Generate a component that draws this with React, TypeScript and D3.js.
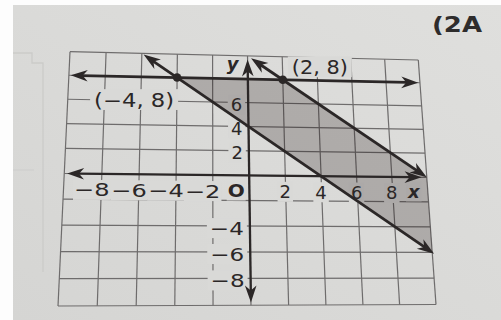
import React from 'react';
import * as d3 from 'd3';

// ---- data ----
const gridValues = d3.range(-10, 11, 2);
const xTickValues = [-8, -6, -4, -2, 2, 4, 6, 8];
const yTickValues = [6, 4, 2, -4, -6, -8];

// boundary lines y = slope * x + intercept, drawn from xStart to xEnd
const lineSlopes = [0, -1, -1];
const lineIntercepts = [8, 4, 10];
const lineStarts = [-9.9, -5.9, 0.2];
const lineEnds = [9.9, 10.1, 10];

// axes extents (data units)
const xAxisRange = [-9.85, 9.7];
const yAxisRange = [-9.8, 9.7];

// labelled vertices
const pointXs = [-4, 2];
const pointYs = [8, 8];
const pointLabels = ['(−4, 8)', '(2, 8)'];

// shaded solution region
const shadeXs = [-4, 2, 10, 10];
const shadeYs = [8, 8, 0, -6];

// ---- layout ----
const W = 501;
const H = 320;
const PAGE = '#d9d9d7';
const INK = '#2b2727';
const GRID = '#6e6c6c';
const FONT = '"DejaVu Sans", Verdana, sans-serif';
// page corners of the grid (the sheet is seen slightly in perspective)
const TL: [number, number] = [70, 51.7];
const TR: [number, number] = [418.3, 60];
const BR: [number, number] = [436, 304.5];
const BL: [number, number] = [58, 306];

type Pt = [number, number];

// projective map of the unit square onto a quadrilateral
function quadMap(p0: Pt, p1: Pt, p2: Pt, p3: Pt) {
  const [x0, y0] = p0, [x1, y1] = p1, [x2, y2] = p2, [x3, y3] = p3;
  const dx1 = x1 - x2, dx2 = x3 - x2, dx3 = x0 - x1 + x2 - x3;
  const dy1 = y1 - y2, dy2 = y3 - y2, dy3 = y0 - y1 + y2 - y3;
  const den = dx1 * dy2 - dx2 * dy1;
  const g = (dx3 * dy2 - dx2 * dy3) / den;
  const h = (dx1 * dy3 - dx3 * dy1) / den;
  const a = x1 - x0 + g * x1, b = x3 - x0 + h * x3, c = x0;
  const d = y1 - y0 + g * y1, e = y3 - y0 + h * y3, f = y0;
  return (u: number, v: number): Pt => {
    const w = g * u + h * v + 1;
    return [(a * u + b * v + c) / w, (d * u + e * v + f) / w];
  };
}

let measureCtx: CanvasRenderingContext2D | null = null;
function measure(text: string, font: string) {
  if (!measureCtx && typeof document !== 'undefined') {
    measureCtx = document.createElement('canvas').getContext('2d');
  }
  if (!measureCtx) return text.length * 10;
  measureCtx.font = font;
  return measureCtx.measureText(text).width;
}

type Label = {
  text: string;
  x: number;
  y: number;
  anchor: 'start' | 'middle' | 'end';
  size: number;
  weight?: string;
  italic?: boolean;
  len?: number;
  adjust?: 'spacing' | 'spacingAndGlyphs';
  knock?: boolean;
  padX?: number;
  padY?: number;
};

function labelWidth(l: Label) {
  if (l.len) return l.len;
  const font = `${l.italic ? 'italic ' : ''}${l.weight || 'normal'} ${l.size}px ${FONT}`;
  return measure(l.text, font);
}

function Arrowhead({ tip, from }: { tip: Pt; from: Pt }) {
  const ang = (Math.atan2(tip[1] - from[1], tip[0] - from[0]) * 180) / Math.PI;
  return (
    <path
      d="M0,0 L-17,-5.8 L-12,0 L-17,5.8 Z"
      fill={INK}
      transform={`translate(${tip[0]},${tip[1]}) rotate(${ang})`}
    />
  );
}

function ArrowLine({ a, b, width }: { a: Pt; b: Pt; width: number }) {
  const len = Math.hypot(b[0] - a[0], b[1] - a[1]);
  const ux = (b[0] - a[0]) / len, uy = (b[1] - a[1]) / len;
  const cut = 11;
  return (
    <g>
      <line
        x1={a[0] + ux * cut}
        y1={a[1] + uy * cut}
        x2={b[0] - ux * cut}
        y2={b[1] - uy * cut}
        stroke={INK}
        strokeWidth={width}
      />
      <Arrowhead tip={a} from={b} />
      <Arrowhead tip={b} from={a} />
    </g>
  );
}

export default function App() {
  const xU = d3.scaleLinear().domain([-10, 10]).range([0, 1]);
  const yV = d3.scaleLinear().domain([10, -10]).range([0, 1]);
  const warp = quadMap(TL, TR, BR, BL);
  const P = (x: number, y: number): Pt => warp(xU(x), yV(y));

  const tickSize = 18;
  const tickFont = `normal ${tickSize}px ${FONT}`;
  const minusW = measure('−', tickFont);

  const labels: Label[] = [];

  // y-axis tick labels
  yTickValues.forEach((v) => {
    const [ax, ay] = P(0, v);
    labels.push({
      text: v < 0 ? `−${-v}` : `${v}`,
      x: ax - 6,
      y: ay + 2,
      anchor: 'end',
      size: tickSize,
      len: v < 0 ? 34 : undefined,
      adjust: 'spacingAndGlyphs',
      knock: true,
      padX: 3,
      padY: 3,
    });
  });

  // x-axis tick labels: digit centred on its grid line
  xTickValues.forEach((v) => {
    const [ax, ay] = P(v, 0);
    const digit = `${Math.abs(v)}`;
    const dw = measure(digit, tickFont);
    if (v < 0) {
      const negLen = 35.5;
      const s = negLen / (minusW + dw);
      labels.push({
        text: `−${digit}`,
        x: ax + (dw * s) / 2,
        y: ay + 16,
        anchor: 'end',
        size: tickSize,
        len: negLen,
        adjust: 'spacingAndGlyphs',
        knock: true,
        padX: 1,
        padY: 3,
      });
    } else {
      labels.push({
        text: digit,
        x: ax,
        y: ay + 16,
        anchor: 'middle',
        size: tickSize,
        knock: true,
        padX: 2,
        padY: 3,
      });
    }
  });

  const [ox, oy] = P(0, 0);
  labels.push({ text: 'O', x: ox - 13, y: oy + 15, anchor: 'middle', size: 18, weight: 'bold', len: 17, adjust: 'spacingAndGlyphs', knock: true, padX: 1, padY: 3 });
  const [xx, xy] = P(10, 0);
  labels.push({ text: 'x', x: xx - 13, y: xy + 14, anchor: 'middle', size: 18, weight: 'bold', italic: true, knock: true, padX: 2, padY: 3 });
  const [yx, yy] = P(0, 10);
  labels.push({ text: 'y', x: yx - 15, y: yy + 8, anchor: 'middle', size: 18, weight: 'bold', italic: true });

  // vertex labels
  const [p0x, p0y] = P(pointXs[0], pointYs[0]);
  labels.push({ text: pointLabels[0], x: p0x - 3, y: p0y + 22, anchor: 'end', size: 19, len: 80, adjust: 'spacingAndGlyphs', knock: true, padX: 4, padY: 3 });
  const [p1x, p1y] = P(pointXs[1], pointYs[1]);
  labels.push({ text: pointLabels[1], x: p1x + 9, y: p1y - 13, anchor: 'start', size: 19, len: 56, adjust: 'spacingAndGlyphs', knock: true, padX: 4, padY: 3 });

  const shadePath = d3.line()(shadeXs.map((x, i) => P(x, shadeYs[i]))) + 'Z';

  const rectFor = (l: Label) => {
    const w = labelWidth(l);
    const left = l.anchor === 'end' ? l.x - w : l.anchor === 'middle' ? l.x - w / 2 : l.x;
    const hgt = l.size * 0.78;
    const px = l.padX ?? 2, py = l.padY ?? 2;
    return { x: left - px, y: l.y - hgt / 2 - py, width: w + 2 * px, height: hgt + 2 * py };
  };

  return (
    <div style={{ position: 'absolute', left: 0, top: 0, width: W, height: H }}>
      <svg width={W} height={H} viewBox={`0 0 ${W} ${H}`} style={{ display: 'block' }}>
        <defs>
          <linearGradient id="page" x1="1" y1="0" x2="0" y2="1">
            <stop offset="0" stopColor="#dfdfdd" />
            <stop offset="1" stopColor="#d5d5d3" />
          </linearGradient>
        </defs>

        {/* sheet */}
        <rect x={0} y={0} width={W} height={H} fill="#fdfdfd" />
        <rect x={13} y={5} width={W - 13} height={H - 5} fill="url(#page)" />
        <path d="M13,53 H32 V63 H43 V272" fill="none" stroke="#cbcbc9" strokeWidth={1.3} />
        <path d="M13,170 H34" fill="none" stroke="#cfcfcd" strokeWidth={1.2} />

        {/* grid */}
        <g stroke={GRID} strokeWidth={1.2}>
          {gridValues.map((v) => {
            const a = P(v, 10), b = P(v, -10);
            return <line key={`gv${v}`} x1={a[0]} y1={a[1]} x2={b[0]} y2={b[1]} />;
          })}
          {gridValues.map((v) => {
            const a = P(-10, v), b = P(10, v);
            return <line key={`gh${v}`} x1={a[0]} y1={a[1]} x2={b[0]} y2={b[1]} />;
          })}
        </g>

        {/* label knockouts */}
        {labels.filter((l) => l.knock).map((l, i) => {
          const r = rectFor(l);
          return <rect key={`k${i}`} {...r} fill={PAGE} />;
        })}

        {/* solution region */}
        <path d={shadePath} fill="#1a0c0c" fillOpacity={0.23} />

        {/* text */}
        {labels.map((l, i) => (
          <text
            key={`t${i}`}
            x={l.x}
            y={l.y}
            textAnchor={l.anchor}
            dominantBaseline="central"
            fontFamily={FONT}
            fontSize={l.size}
            fontWeight={l.weight || 'normal'}
            fontStyle={l.italic ? 'italic' : 'normal'}
            fill={INK}
            textLength={l.len}
            lengthAdjust={l.len ? l.adjust || 'spacing' : undefined}
          >
            {l.text}
          </text>
        ))}
        <text x={432} y={24} dominantBaseline="central" fontFamily={FONT} fontSize={22} fontWeight="bold" fill="#2e2c2c" textLength={50} lengthAdjust="spacingAndGlyphs">
          (2A
        </text>

        {/* axes */}
        <ArrowLine a={P(xAxisRange[0], 0)} b={P(xAxisRange[1], 0)} width={2.3} />
        <ArrowLine a={P(0, yAxisRange[0])} b={P(0, yAxisRange[1])} width={2.3} />

        {/* boundary lines */}
        {lineSlopes.map((m, i) => {
          const x0 = lineStarts[i], x1 = lineEnds[i];
          return (
            <ArrowLine
              key={`l${i}`}
              a={P(x0, m * x0 + lineIntercepts[i])}
              b={P(x1, m * x1 + lineIntercepts[i])}
              width={2.8}
            />
          );
        })}

        {/* vertices */}
        {pointXs.map((x, i) => {
          const [cx, cy] = P(x, pointYs[i]);
          return <circle key={`p${i}`} cx={cx} cy={cy} r={4.3} fill={INK} />;
        })}
      </svg>
    </div>
  );
}
